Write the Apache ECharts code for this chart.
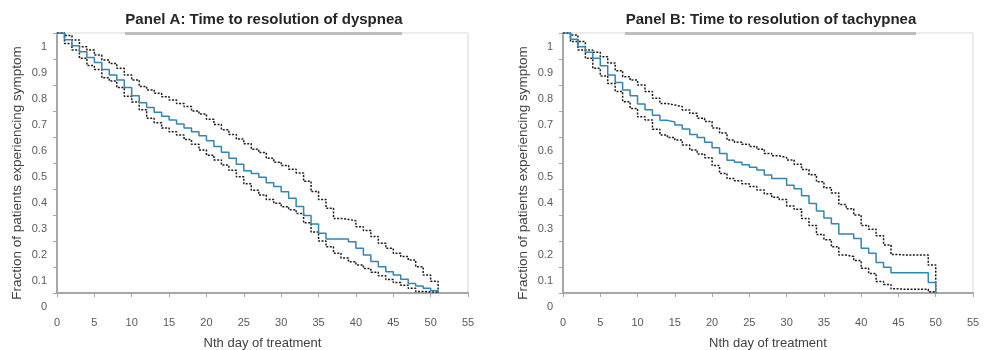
<!DOCTYPE html>
<html>
<head>
<meta charset="utf-8">
<script src="https://cdn.jsdelivr.net/npm/echarts@6/dist/echarts.min.js"></script>
<style>
  html, body { margin: 0; padding: 0; background: #ffffff; }
  #chart { width: 984px; height: 350px; }
</style>
</head>
<body>
<div id="chart"></div>
<script>
// Kaplan-Meier style estimates, one value per day (value holds from day d to d+1)
const dyspneaEstimate = [1.0, .974, .951, .928, .906, .887, .860, .838, .819, .790, .759, .732, .713, .695, .680, .665, .650, .635, .620, .605, .586, .563, .541, .518, .495, .470, .460, .445, .424, .410, .389, .364, .333, .298, .265, .230, .208, .208, .208, .197, .172, .146, .121, .101, .082, .069, .053, .037, .027, .018, .009];
const dyspneaUpper = [1.0, .990, .973, .947, .935, .915, .896, .883, .864, .838, .819, .794, .781, .768, .755, .742, .729, .717, .700, .688, .668, .648, .628, .610, .592, .574, .553, .540, .518, .503, .490, .476, .462, .430, .390, .360, .326, .287, .283, .278, .255, .240, .217, .191, .172, .153, .140, .127, .101, .069, .045];
const dyspneaLower = [1.0, .960, .935, .903, .875, .860, .828, .815, .790, .757, .735, .705, .672, .655, .635, .620, .608, .590, .572, .550, .530, .512, .492, .472, .447, .420, .395, .377, .360, .345, .332, .320, .306, .270, .235, .200, .178, .153, .135, .120, .108, .094, .080, .066, .052, .040, .030, .018, .006, .004, .004];
const dyspneaLastDay = 51;

const tachypneaEstimate = [1.0, .976, .947, .926, .903, .874, .838, .810, .781, .759, .727, .705, .684, .664, .658, .646, .631, .610, .598, .580, .559, .537, .511, .503, .493, .484, .473, .454, .440, .440, .414, .401, .374, .344, .315, .288, .266, .227, .227, .210, .172, .153, .117, .099, .078, .078, .078, .078, .078, .040];
const tachypneaUpper = [1.0, .992, .967, .935, .926, .909, .885, .855, .832, .819, .800, .775, .749, .729, .723, .717, .704, .691, .672, .660, .635, .615, .588, .580, .572, .563, .553, .537, .528, .521, .512, .495, .475, .455, .428, .405, .385, .340, .324, .300, .260, .245, .220, .185, .148, .146, .146, .146, .146, .108];
const tachypneaLower = [1.0, .967, .935, .903, .864, .835, .806, .775, .736, .710, .678, .665, .630, .608, .598, .588, .569, .550, .535, .520, .490, .460, .440, .432, .420, .410, .396, .382, .368, .360, .335, .322, .287, .260, .225, .205, .178, .146, .140, .125, .095, .075, .044, .033, .016, .014, .014, .014, .014, .005];
const tachypneaLastDay = 50;

const panelTitles = ['Panel A: Time to resolution of dyspnea', 'Panel B: Time to resolution of tachypnea'];
const xAxisTitle = 'Nth day of treatment';
const yAxisTitle = 'Fraction of patients experiencing symptom';

// turn a per-day list into step points ending with a drop to zero
function steps(values, lastDay) {
  const pts = values.map((v, d) => [d, v]);
  pts.push([lastDay, 0]);
  return pts;
}

const FONT = '"Liberation Sans", Arial, sans-serif';
const AXIS_GRAY = '#a6a6a6';

function xAxisFor(gridIndex) {
  return {
    type: 'value', gridIndex, min: 0, max: 55, interval: 5,
    name: xAxisTitle, nameLocation: 'middle', nameGap: 44,
    nameTextStyle: { fontFamily: FONT, fontSize: 13, color: '#404040' },
    axisLine: { show: true, onZero: false, lineStyle: { color: AXIS_GRAY, width: 2 } },
    axisTick: { show: true, length: 4, lineStyle: { color: AXIS_GRAY, width: 1 } },
    axisLabel: { fontFamily: FONT, fontSize: 11, color: '#595959', margin: 24 },
    splitLine: { show: false }
  };
}

function yAxisFor(gridIndex) {
  return {
    type: 'value', gridIndex, min: 0, max: 1, interval: 0.1,
    name: yAxisTitle, nameLocation: 'middle', nameGap: 33,
    nameTextStyle: { fontFamily: FONT, fontSize: 13.5, color: '#404040', padding: [0, 20, 0, 0] },
    axisLine: { show: true, lineStyle: { color: AXIS_GRAY, width: 2 } },
    axisTick: { show: true, length: 4, lineStyle: { color: AXIS_GRAY, width: 1 } },
    axisLabel: {
      fontFamily: FONT, fontSize: 11, color: '#595959', margin: 10,
      verticalAlign: 'top', padding: [8, 0, 0, 0],
      formatter: v => String(+v.toFixed(1))
    },
    splitLine: { show: false }
  };
}

function estimateSeries(data, idx) {
  return {
    type: 'line', xAxisIndex: idx, yAxisIndex: idx, data, step: 'end',
    showSymbol: false, symbol: 'none', silent: true,
    lineStyle: { color: '#3584b1', width: 1.5 }, z: 3
  };
}
function boundSeries(data, idx) {
  return {
    type: 'line', xAxisIndex: idx, yAxisIndex: idx, data, step: 'end',
    showSymbol: false, symbol: 'none', silent: true,
    lineStyle: { color: '#1a1a1a', width: 1.5, type: [2, 1.5] }, z: 2
  };
}

const chart = echarts.init(document.getElementById('chart'), null, { renderer: 'canvas' });
chart.setOption({
  animation: false,
  backgroundColor: '#ffffff',
  title: [
    { text: panelTitles[0], left: 259, top: 7, textAlign: 'center',
      textStyle: { fontFamily: FONT, fontSize: 15, fontWeight: 'bold', color: '#262626' } },
    { text: panelTitles[1], left: 766, top: 7, textAlign: 'center',
      textStyle: { fontFamily: FONT, fontSize: 15, fontWeight: 'bold', color: '#262626' } }
  ],
  grid: [
    { left: 57, top: 33, width: 411, height: 260, outerBoundsMode: 'none', containLabel: false,
      show: true, borderColor: '#d9d9d9', borderWidth: 1 },
    { left: 563, top: 33, width: 410, height: 260, outerBoundsMode: 'none', containLabel: false,
      show: true, borderColor: '#d9d9d9', borderWidth: 1 }
  ],
  xAxis: [xAxisFor(0), xAxisFor(1)],
  yAxis: [yAxisFor(0), yAxisFor(1)],
  graphic: [
    { type: 'rect', shape: { x: 125, y: 32, width: 277, height: 3 }, style: { fill: '#bdbdbd' }, z: 10 },
    { type: 'rect', shape: { x: 625, y: 32, width: 291, height: 3 }, style: { fill: '#bdbdbd' }, z: 10 }
  ],
  series: [
    boundSeries(steps(dyspneaUpper, dyspneaLastDay), 0),
    boundSeries(steps(dyspneaLower, dyspneaLastDay), 0),
    estimateSeries(steps(dyspneaEstimate, dyspneaLastDay), 0),
    boundSeries(steps(tachypneaUpper, tachypneaLastDay), 1),
    boundSeries(steps(tachypneaLower, tachypneaLastDay), 1),
    estimateSeries(steps(tachypneaEstimate, tachypneaLastDay), 1)
  ]
});
</script>
</body>
</html>
